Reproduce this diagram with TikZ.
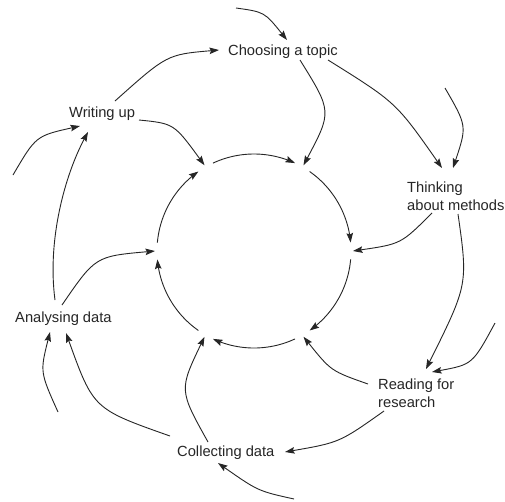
\documentclass[tikz,border=0pt]{standalone}
\usepackage{fontspec}
\setmainfont{Liberation Sans}
\usetikzlibrary{arrows.meta}
\begin{document}
\begin{tikzpicture}[x=1pt,y=-1pt,
  lbl/.style={inner sep=0pt, font=\fontsize{14.7}{18}\selectfont, text=black!85},
  arr/.style={line width=0.9pt, draw=black!85, -{Stealth[length=9.5pt,width=6.5pt,inset=1.5pt]}}]
\useasboundingbox (0,0) rectangle (505,501);
\fill[white] (0,0) rectangle (505,501);

% step labels
\node[lbl, anchor=base west] (ct) at (228,55) {Choosing a topic};
\node[lbl, anchor=west, align=left] (tm) at (407,196) {Thinking\\about methods};
\node[lbl, anchor=west, align=left] (rr) at (378,393) {Reading for\\research};
\node[lbl, anchor=base west] (cd) at (177,456) {Collecting data};
\node[lbl, anchor=base west] (ad) at (15,322) {Analysing data};
\node[lbl, anchor=base west] (wu) at (69,117) {Writing up};

% inner cycle junctions
\foreach \i/\a in {1/-120,2/-60,3/0,4/60,5/120,6/180}
  \coordinate (J\i) at ({254+99*cos(\a)},{251+99*sin(\a)});

% inner cycle arcs
\foreach \a [evaluate=\a as \s using \a+5, evaluate=\a as \e using \a+55] in {-120,-60,0,60,120,180}
  \draw[arr] plot[domain=\s:\e, samples=40, smooth] ({254+97*cos(\x)},{251+97*sin(\x)});

% free ends of the incoming arrows
\coordinate (e1) at (236,8);
\coordinate (e2) at (445,88);
\coordinate (e3) at (495,323);
\coordinate (e4) at (294,499);
\coordinate (e5) at (58,412);
\coordinate (e6) at (13,175);

\draw[arr] (e1) .. controls (264.5,12) .. ([shift={(59,-15)}]ct.base west);
\draw[arr] (e2) .. controls (467,126) .. ([shift={(46,-28)}]tm.west);
\draw[arr] (e3) .. controls (472.5,364.5) .. ([shift={(54,-21)}]rr.west);
\draw[arr] (e4) .. controls (258,491) .. ([shift={(41,7)}]cd.base west);
\draw[arr] (e5) .. controls (40,372) .. ([shift={(35,10)}]ad.base west);
\draw[arr] (e6) .. controls (35.9,135.9) .. ([shift={(11,9)}]wu.base west);

% step to step
\draw[arr] ([shift={(46,-16)}]wu.base west) .. controls (167,54.5) .. ([shift={(-9,-5)}]ct.base west);
\draw[arr] ([shift={(100,5)}]ct.base west) .. controls (396,102.4) .. ([shift={(35,-28)}]tm.west);
\draw[arr] ([shift={(51,18)}]tm.west) .. controls (468,284.5) .. ([shift={(48,-24)}]rr.west);
\draw[arr] ([shift={(6,18)}]rr.west) .. controls (339.5,442.5) .. ([shift={(108,-4)}]cd.base west);
\draw[arr] ([shift={(-7,-20)}]cd.base west) .. controls (93.4,409) .. ([shift={(51,11)}]ad.base west);
\draw[arr] ([shift={(40,-22)}]ad.base west) .. controls (47,240) and (65,175) .. ([shift={(19,15)}]wu.base west);

% steps to the inner cycle
\draw[arr] ([shift={(70,3)}]wu.base west) .. controls (174,123.5) .. (J1);
\draw[arr] ([shift={(72,5)}]ct.base west) .. controls (332,111.5) .. (J2);
\draw[arr] ([shift={(25,17)}]tm.west) .. controls (401,244) .. (J3);
\draw[arr] ([shift={(-10,-9)}]rr.west) .. controls (331,371) .. (J4);
\draw[arr] ([shift={(31,-14)}]cd.base west) .. controls (179,390) .. (J5);
\draw[arr] ([shift={(47,-17)}]ad.base west) .. controls (95.4,256.3) .. (J6);
\end{tikzpicture}
\end{document}
